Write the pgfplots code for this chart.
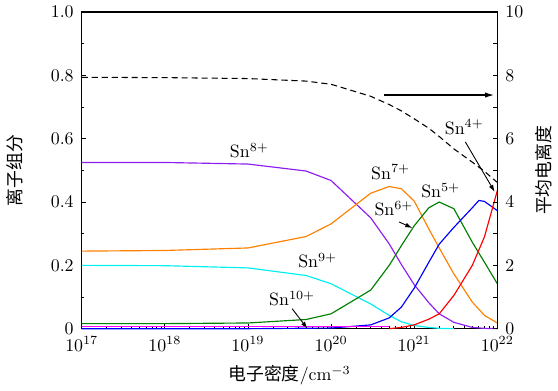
\documentclass[border=0pt]{standalone}
\usepackage{fontspec}
\usepackage{pgfplots}
\pgfplotsset{compat=1.18}
\usetikzlibrary{arrows.meta}
\newfontfamily\cjk{Noto Sans CJK SC}
\definecolor{cpurple}{RGB}{140,30,240}
\definecolor{corange}{RGB}{255,128,0}
\definecolor{ccyan}{RGB}{0,240,240}
\definecolor{cgreen}{RGB}{0,128,0}
\definecolor{cblue}{RGB}{0,0,255}
\definecolor{cred}{RGB}{255,0,0}
\definecolor{cmag}{RGB}{255,0,255}
\begin{document}
\begin{tikzpicture}
\begin{axis}[name=ax,
  scale only axis, width=233pt, height=177.5pt,
  xmode=log, xmin=1e17, xmax=1e22,
  tick align=inside,
  major tick length=2.4pt, minor tick length=1.4pt,
  axis line style={line width=0.7pt},
  every tick/.style={black, line width=0.5pt},
  ymin=0, ymax=1,
  xtick pos=lower, ytick pos=left,
  ytick={0,0.2,0.4,0.6,0.8,1.0},
  yticklabels={0,0.2,0.4,0.6,0.8,1.0},
  minor ytick={0.1,0.3,0.5,0.7,0.9},
  ylabel={\cjk 离子组分},
  ylabel shift=9pt,
  xlabel={{\cjk 电子密度}/cm$^{-3}$},
  xlabel shift=1pt,
  xticklabel shift=1pt,
  yticklabel shift=1pt,
  clip=false,
]
% Sn8+
\addplot[cpurple, line width=0.65pt] coordinates {(1e17,0.525)(1e18,0.525)(1e19,0.52)(5e19,0.498)(1e20,0.468)(3e20,0.35)(5e20,0.268)(7e20,0.203)(1e21,0.139)(1.5e21,0.082)(2e21,0.047)(3e21,0.02)(5e21,0.004)(7e21,0.001)(1e22,0)};
% Sn7+
\addplot[corange, line width=0.65pt] coordinates {(1e17,0.245)(1e18,0.247)(1e19,0.255)(5e19,0.291)(1e20,0.331)(3e20,0.428)(5e20,0.449)(7e20,0.442)(1e21,0.403)(1.5e21,0.315)(2e21,0.255)(3e21,0.173)(5e21,0.084)(7e21,0.042)(1e22,0.018)};
% Sn9+
\addplot[ccyan, line width=0.65pt] coordinates {(1e17,0.200)(1e18,0.199)(1e19,0.192)(5e19,0.168)(1e20,0.142)(3e20,0.078)(5e20,0.042)(7e20,0.022)(1e21,0.01)(1.5e21,0.004)(2e21,0.001)(3e21,0)};
% Sn6+
\addplot[cgreen, line width=0.65pt] coordinates {(1e17,0.016)(1e18,0.016)(1e19,0.018)(5e19,0.029)(1e20,0.047)(3e20,0.122)(5e20,0.2)(7e20,0.262)(1e21,0.325)(1.5e21,0.382)(2e21,0.40)(3e21,0.379)(5e21,0.273)(7e21,0.21)(1e22,0.142)};
% Sn5+
\addplot[cblue, line width=0.65pt] coordinates {(1e17,0)(1e19,0)(1e20,0.002)(3e20,0.012)(5e20,0.034)(7e20,0.068)(1e21,0.128)(1.5e21,0.21)(2e21,0.267)(3e21,0.32)(5e21,0.382)(6e21,0.405)(7e21,0.402)(1e22,0.373)};
% Sn4+
\addplot[cred, line width=0.65pt] coordinates {(5e20,0)(7e20,0.004)(1e21,0.012)(1.5e21,0.03)(2e21,0.047)(3e21,0.105)(5e21,0.2)(7e21,0.29)(1e22,0.436)};
% Sn10+
\addplot[cmag, line width=0.65pt] coordinates {(1e17,0.007)(5e20,0.007)};
% labels
\node at (axis cs:1.04e19,0.5625) {Sn$^{8+}$};
\node at (axis cs:5.2e20,0.494) {Sn$^{7+}$};
\node at (axis cs:2.08e21,0.436) {Sn$^{5+}$};
\node at (axis cs:5.7e20,0.379) {Sn$^{6+}$};
\node at (axis cs:6.9e19,0.2155) {Sn$^{9+}$};
\node at (axis cs:3.4e19,0.0946) {Sn$^{10+}$};
\node at (axis cs:4e21,0.637) {Sn$^{4+}$};
\draw[-{Latex[length=4pt,width=2.6pt]}, line width=0.5pt] (axis cs:6.6e20,0.337) -- (axis cs:9.5e20,0.318);
\draw[-{Latex[length=4pt,width=2.6pt]}, line width=0.5pt] (axis cs:3.4e19,0.063) -- (axis cs:5.2e19,0.0);
\draw[-{Latex[length=4pt,width=2.6pt]}, line width=0.5pt] (axis cs:4.12e21,0.59) -- (axis cs:9.3e21,0.432);
\draw[-{Latex[length=5pt,width=3pt]}, line width=0.6pt] (axis cs:4.35e20,0.738) -- (axis cs:9.1e21,0.738);
\end{axis}
\begin{axis}[
  scale only axis, width=233pt, height=177.5pt,
  xmode=log, xmin=1e17, xmax=1e22,
  tick align=inside,
  major tick length=2.4pt, minor tick length=2.4pt,
  axis line style={line width=0.7pt},
  every tick/.style={black, line width=0.5pt},
  ymin=0, ymax=10,
  axis x line=none, axis y line*=right,
  ytick={0,2,4,6,8,10},
  minor ytick={1,3,5,7,9},
  ylabel={\cjk 平均电离度},
  ylabel shift=0pt,
  yticklabel shift=1pt,
]
\addplot[black, dash pattern=on 3.4pt off 2.2pt, line width=0.6pt] coordinates {(1e17,7.94)(1e18,7.93)(1e19,7.9)(5e19,7.82)(1e20,7.72)(3e20,7.34)(5e20,7.08)(7e20,6.88)(1e21,6.63)(1.5e21,6.33)(2e21,6.07)(3e21,5.68)(5e21,5.26)(7e21,4.97)(1e22,4.62)};
\end{axis}
\end{tikzpicture}
\end{document}
